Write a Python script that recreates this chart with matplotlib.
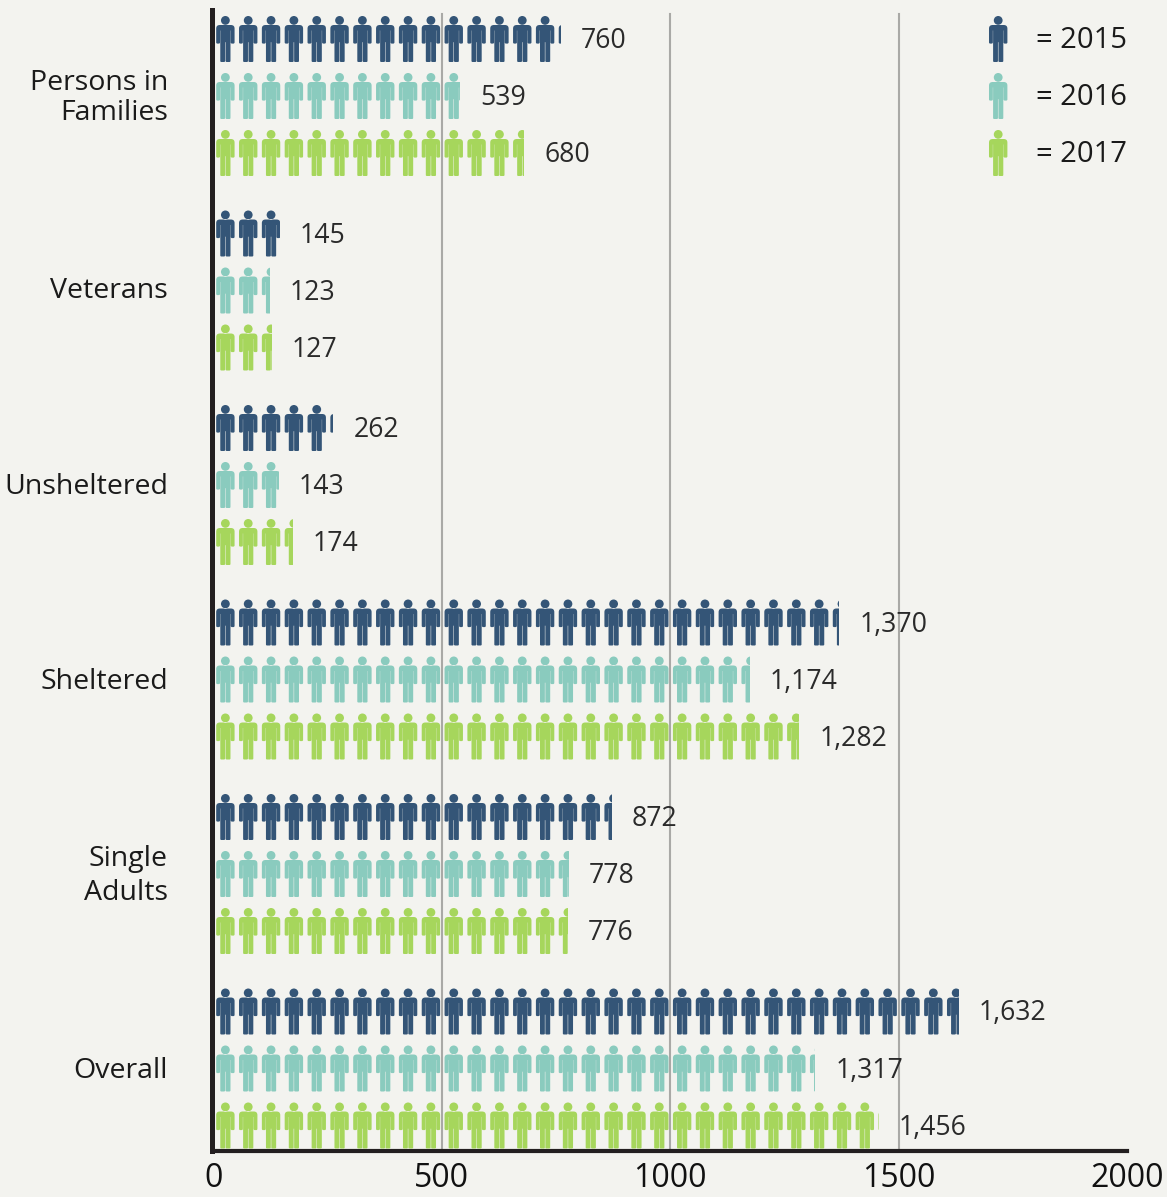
import matplotlib
matplotlib.use("Agg")
import matplotlib.pyplot as plt
from matplotlib.path import Path
from matplotlib.patches import PathPatch, Rectangle
from matplotlib.transforms import Affine2D

# --------------- Data -----------------
categories = ["Persons in\nFamilies", "Veterans", "Unsheltered", "Sheltered", "Single\nAdults", "Overall"]
years = ["2015", "2016", "2017"]
values_2015 = [760, 145, 262, 1370, 872, 1632]
values_2016 = [539, 123, 143, 1174, 778, 1317]
values_2017 = [680, 127, 174, 1282, 776, 1456]
x_ticks = [0, 500, 1000, 1500, 2000]

# --------------- Style -----------------
colors = ["#345577", "#8acbbe", "#a6d65c"]
bg = "#f3f3ef"
axis_col = "#231f20"
W, H = 1167, 1197
x0_px, x1_px = 213.5, 1127
top_px, bot_px = 10, 1151
group_px = 194.5
row_px = 57
first_px = 96  # centre of first group
per_person = 50
person_offset = 26
px_x = (x1_px - x0_px) / 2000.0

plt.rcParams["font.family"] = ["Open Sans", "DejaVu Sans"]


def person_path():
    # right half of the outline in pixels, y pointing down, mirrored for the left
    M, L, Q, C = Path.MOVETO, Path.LINETO, Path.CURVE3, Path.CLOSEPOLY
    half = [
        (L, (0.25, 22)), (Q, (0.25, 23)), (Q, (1.4, 23)),
        (L, (4.0, 23)), (Q, (5.1, 23)), (Q, (5.1, 22)),
        (L, (5.1, -8.5)), (L, (5.35, -8.5)), (L, (5.35, 3.4)), (Q, (5.35, 4.6)), (Q, (6.6, 4.6)),
        (L, (8.0, 4.6)), (Q, (9.2, 4.6)), (Q, (9.2, 3.4)),
        (L, (9.2, -10.5)), (Q, (9.2, -14)), (Q, (5.5, -14)),
    ]
    verts = [(0.25, 3.2)]
    codes = [M]
    for c, p in half:
        codes.append(c)
        verts.append(p)
    # walk back down the left side
    back = [(-c[1][0], c[1][1]) for c in reversed(half)]
    back_codes = [c[0] for c in reversed(half)]
    # the code of a segment belongs to its end point, so shift by one
    verts.append(back[0])
    codes.append(L)
    for i in range(1, len(back)):
        verts.append(back[i])
        codes.append(back_codes[i - 1])
    verts.append((-0.25, 3.2))
    codes.append(L)
    verts.append((0.25, 3.2))
    codes.append(C)
    torso = Path(verts, codes)
    head = Path.circle((0, -18.6), 4.4)
    return Path.make_compound_path(torso, head)


PERSON = person_path()


def row_y(g, s):
    return g + (s - 1) * row_px / group_px


def draw_people(ax, y, n, color, limit=None):
    paths = []
    for i in range(n):
        t = Affine2D().scale(1 / px_x, 1 / group_px).translate(person_offset + i * per_person, y)
        paths.append(PERSON.transformed(t))
    patch = PathPatch(Path.make_compound_path(*paths), facecolor=color, edgecolor="none", zorder=3)
    ax.add_patch(patch)
    if limit is not None:
        patch.set_clip_path(Rectangle((0, y - 0.2), limit, 0.4, transform=ax.transData))
    return patch


fig = plt.figure(figsize=(W / 100, H / 100), dpi=100, facecolor=bg)
ax = fig.add_axes([x0_px / W, 1 - bot_px / H, (x1_px - x0_px) / W, (bot_px - top_px) / H], facecolor=bg)
ax.set_xlim(0, 2000)
ax.set_ylim((bot_px - first_px) / group_px, (top_px - first_px) / group_px)

for s in ["top", "right"]:
    ax.spines[s].set_visible(False)
ax.spines["left"].set_linewidth(3.6)
ax.spines["left"].set_position(("outward", 1.1))
ax.spines["bottom"].set_linewidth(3.0)
ax.spines["left"].set_color(axis_col)
ax.spines["bottom"].set_color(axis_col)

# grid lines stop just under the top of the axis
for v in x_ticks[1:-1]:
    ax.plot([v, v], [ax.get_ylim()[0], (14 - first_px) / group_px], color="#a9a9a6", lw=1.5, zorder=1)

all_values = [values_2015, values_2016, values_2017]
for s, vals in enumerate(all_values):
    for g, v in enumerate(vals):
        y = row_y(g, s)
        draw_people(ax, y, v // per_person + 1, colors[s], limit=v)
        ax.text(v + 44, y + 2 / group_px, f"{v:,}", fontsize=19.2, color="#2a2a2a",
                va="center", ha="left", zorder=4)

# legend, drawn with the same figure
for s, yr in enumerate(years):
    y = row_y(0, s)
    p = draw_people(ax, y, 1, colors[s])
    p.set_transform(Affine2D().translate(1692, 0) + ax.transData)
    ax.text(1800, y + 1 / group_px, f"= {yr}", fontsize=21, color="#1a1a1a", va="center", ha="left", zorder=4)

ax.set_xticks(x_ticks)
ax.set_xticklabels([str(v) for v in x_ticks], fontsize=23, color="#111111")
ax.tick_params(axis="x", length=0, pad=8)
ax.set_yticks([])
label_x = (168 - x0_px) / px_x
spacing = [1.05, 1, 1, 1, 1.25, 1]
nudge = [2, 0, 2, 2, 2, 2]
for g, name in enumerate(categories):
    ax.text(label_x, g + nudge[g] / group_px, name, fontsize=20.5, color="#1a1a1a", ha="right", va="center",
            multialignment="right", linespacing=spacing[g], clip_on=False)

fig.savefig("out.png", dpi=100, facecolor=bg)
